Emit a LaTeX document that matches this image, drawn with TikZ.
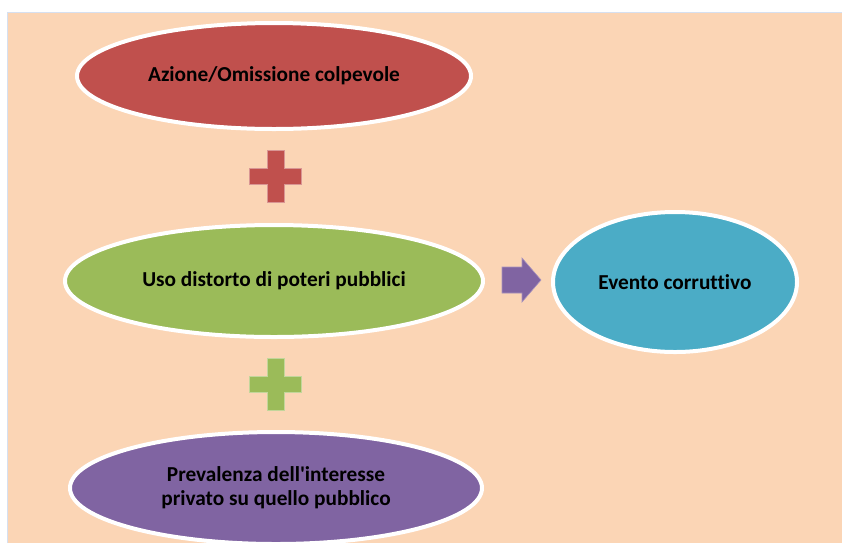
\documentclass[tikz,border=0pt]{standalone}
\usepackage{fontspec}
\setmainfont{Carlito}[Ligatures={NoCommon,TeXOff}]
\usetikzlibrary{shapes.geometric}
\definecolor{peach}{HTML}{FBD5B5}
\definecolor{frameblue}{HTML}{D6E0F0}
\definecolor{ored}{HTML}{C0504D}
\definecolor{ogreen}{HTML}{9BBB59}
\definecolor{oblue}{HTML}{4BACC6}
\definecolor{opurple}{HTML}{8064A2}
\tikzset{
  oval/.style={ellipse, draw=white, line width=4pt, inner sep=0pt, font=\fontsize{21.3}{24}\selectfont\bfseries, text=black, align=center},
  plusshape/.style={line width=0.6pt},
}
\begin{document}
\begin{tikzpicture}[x=1pt,y=-1pt]
\useasboundingbox (0,0) rectangle (842,542);
\fill[white] (0,0) rectangle (842,542);
\filldraw[fill=peach, draw=frameblue, line width=1pt] (7.5,12.5) rectangle (845,545);
\node[oval, fill=ored, minimum width=394pt, minimum height=106pt] (a) at (274,76) {Azione/Omissione colpevole};
\node[oval, fill=ogreen, minimum width=418pt, minimum height=112pt] (b) at (274,281) {Uso distorto di poteri pubblici};
\node[oval, fill=oblue, minimum width=244pt, minimum height=140pt] (c) at (675,282) {Evento corruttivo};
\node[oval, fill=opurple, minimum width=412pt, minimum height=112pt] (d) at (276,488) {Prevalenza dell'interesse\\privato su quello pubblico};
% plus signs
\coordinate (p1) at (275.5,176);
\coordinate (p2) at (275.5,384);
\filldraw[plusshape, fill=ored, draw=ored!60!white] ([shift={(-8.5,-26)}]p1) -- ++(17,0) -- ++(0,18) -- ++(17.5,0) -- ++(0,16) -- ++(-17.5,0) -- ++(0,18) -- ++(-17,0) -- ++(0,-18) -- ++(-17.5,0) -- ++(0,-16) -- ++(17.5,0) -- cycle;
\filldraw[plusshape, fill=ogreen, draw=ogreen!60!white] ([shift={(-8.5,-26)}]p2) -- ++(17,0) -- ++(0,18) -- ++(17.5,0) -- ++(0,16) -- ++(-17.5,0) -- ++(0,18) -- ++(-17,0) -- ++(0,-18) -- ++(-17.5,0) -- ++(0,-16) -- ++(17.5,0) -- cycle;
% arrow
\coordinate (ar) at (502,280);
\filldraw[plusshape, fill=opurple, draw=opurple!70!white] ([shift={(0,-13)}]ar) -- ++(20,0) -- ++(0,-9) -- ++(19,22) -- ++(-19,22) -- ++(0,-9) -- ++(-20,0) -- cycle;
\end{tikzpicture}
\end{document}
